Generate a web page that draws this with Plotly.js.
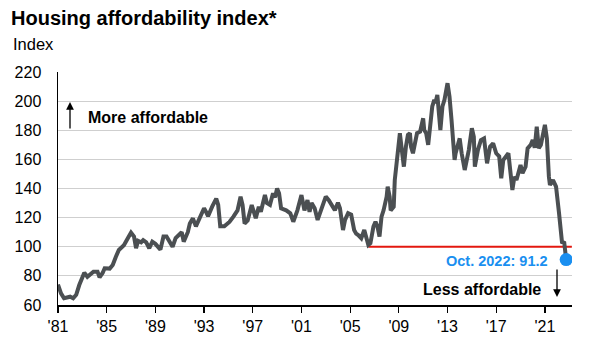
<!DOCTYPE html>
<html>
<head>
<meta charset="utf-8">
<script src="https://cdn.plot.ly/plotly-3.0.1.min.js"></script>
<style>html,body{margin:0;padding:0;background:#fff;}#chart{width:600px;height:348px;}</style>
</head>
<body>
<div id="chart"></div>
<script>
// Housing affordability index
const dates = [
'1981-01','1981-04','1981-07','1981-10','1982-01','1982-04','1982-07','1982-10','1983-01','1983-03',
'1983-06','1983-09','1983-12','1984-04','1984-06','1984-09','1984-11','1985-04','1985-07','1985-10',
'1986-01','1986-06','1986-08','1986-10','1987-01','1987-04','1987-06','1987-08','1987-11','1988-01',
'1988-04','1988-07','1988-10','1989-01','1989-06','1989-09','1989-12','1990-03','1990-06','1990-09',
'1990-12','1991-03','1991-05','1991-09','1991-11','1992-02','1992-05','1992-09','1993-01','1993-03',
'1993-05','1993-09','1994-01','1994-03','1994-05','1994-09','1995-02','1995-06','1995-10','1996-01',
'1996-03','1996-05','1996-08','1996-12','1997-04','1997-07','1997-09','1998-01','1998-03','1998-06',
'1998-09','1998-11','1999-01','1999-03','1999-05','1999-10','2000-02','2000-05','2000-09','2001-01',
'2001-03','2001-04','2001-07','2001-09','2001-11','2002-02','2002-05','2002-09','2003-01','2003-04',
'2003-07','2003-10','2004-01','2004-03','2004-06','2004-08','2004-11','2005-02','2005-05','2005-07',
'2005-09','2005-12','2006-03','2006-05','2006-07','2006-09','2006-12','2007-02','2007-04','2007-06',
'2007-08','2007-10','2008-01','2008-02','2008-04','2008-05','2008-08','2008-09','2008-11','2009-01',
'2009-02','2009-04','2009-06','2009-08','2009-10','2009-12','2010-01','2010-03','2010-05','2010-07',
'2010-10','2011-01','2011-02','2011-04','2011-06','2011-08','2011-10','2011-12','2012-01','2012-03',
'2012-04','2012-06','2012-08','2012-10','2013-01','2013-03','2013-05','2013-08','2013-09','2013-11',
'2014-01','2014-03','2014-06','2014-10','2015-01','2015-03','2015-04','2015-07','2015-10','2016-01',
'2016-04','2016-07','2016-10','2017-01','2017-04','2017-06','2017-08','2018-01','2018-05','2018-07',
'2018-09','2019-01','2019-03','2019-06','2019-08','2019-11','2020-01','2020-03','2020-05','2020-07',
'2020-09','2021-01','2021-03','2021-05','2021-06','2021-09','2021-12','2022-03','2022-06','2022-08',
'2022-10'
];
const index = [
74,68,64.6,65,65.7,64.6,67,73.7,80,82.2,
79.4,81,82.9,82.9,79,82,85.2,85,87.5,93,
97.8,101,103,106,109.7,107,99,104,103,104.5,
103,99,103.5,102,98,107,107,104,100,106,
108,110,103.5,110,116,119.5,114,120.7,126.4,124,
121,127.5,133,128.7,114,114,117,120.7,125,134.4,
128.7,116,118,128.7,119.6,127.5,124,135.5,130,128.7,
136.7,134,140,136.7,126.4,125,123,117.2,125,135.5,
130,125,132,124,130,126.4,118.4,127.5,134.4,132,
128.7,125,130.3,126.4,111.5,118.4,123,122,111.5,109,
108,105.8,111.5,107,101.2,102.4,113.8,117.2,113.8,107,
120.7,125,134.4,141.3,134.4,125,127.5,145.8,159.6,175.6,
177.9,166.4,155,168.7,176.8,178,168.7,164.2,172.2,178,
179,188.2,180.2,178,170,181.4,196.3,200.9,198.6,204.2,
196.3,180.2,196.3,200.9,212.3,203.2,187.1,159.6,164.2,171,
174.4,164.2,152.7,166.4,181.4,175.6,155,166.4,173.3,174.4,
157.3,168.7,171,164.2,162,147,159.6,164.2,139,148.1,
145.8,156.2,150.5,155,167.6,169.9,173.3,168,182.5,167.6,
169.9,183.7,174.4,148.1,142.4,145.8,141.3,123,102.4,103.5,
91.2
];
const refLineDates = ['2006-07-01','2023-03-20'];
const refLineValues = [100, 100];
const lastDate = ['2022-10'];
const lastValue = [91.2];
const tickDates = ['1981-01-01','1985-01-01','1989-01-01','1993-01-01','1997-01-01','2001-01-01','2005-01-01','2009-01-01','2013-01-01','2017-01-01','2021-01-01'];
const tickLabels = ["'81","'85","'89","'93","'97","'01","'05","'09","'13","'17","'21"];
const yTicks = [60,80,100,120,140,160,180,200,220];

const FONT = 'Liberation Sans, Arial, Helvetica, sans-serif';
const L = 58, R = 572, T = 72, B = 305;
const px = x => (x - L) / (R - L);
const py = y => (B - y) / (B - T);

const traces = [
  {x: refLineDates, y: refLineValues, mode: 'lines', line: {color: '#e3180f', width: 2}, hoverinfo: 'skip'},
  {x: dates, y: index, mode: 'lines', line: {color: '#4b4f52', width: 4, shape: 'linear'}, hoverinfo: 'skip'},
  {x: lastDate, y: lastValue, mode: 'markers', marker: {color: '#1a8ff0', size: 13}, hoverinfo: 'skip'}
];

const layout = {
  width: 600, height: 348,
  margin: {l: L, r: 600 - R, t: T, b: 348 - B},
  paper_bgcolor: '#fff', plot_bgcolor: '#fff',
  showlegend: false,
  font: {family: FONT, color: '#000', size: 16},
  title: {text: '<b>Housing affordability index*</b>', font: {family: FONT, size: 20, color: '#000'},
          xref: 'container', yref: 'container', x: 11/600, xanchor: 'left', y: 1 - 18/348, yanchor: 'middle'},
  xaxis: {
    type: 'date', range: ['1981-01-01', '2023-03-25'],
    tickmode: 'array', tickvals: tickDates, ticktext: tickLabels,
    ticks: 'outside', ticklen: 6, tickwidth: 1.2, tickcolor: '#000',
    showline: true, linecolor: '#000', linewidth: 1.5,
    showgrid: false, zeroline: false,
    tickfont: {family: FONT, size: 16, color: '#000'}
  },
  yaxis: {
    range: [60, 220], tickmode: 'array', tickvals: yTicks,
    ticks: 'outside', ticklen: 12, tickcolor: 'rgba(0,0,0,0)',
    showline: true, linecolor: '#000', linewidth: 1.5,
    showgrid: true, gridcolor: '#cfcfcf', gridwidth: 1, zeroline: false,
    tickfont: {family: FONT, size: 16, color: '#000'}
  },
  annotations: [
    {xref: 'paper', yref: 'paper', x: px(11), y: py(44), xanchor: 'left', yanchor: 'middle',
     text: 'Index', showarrow: false, font: {family: FONT, size: 16.5, color: '#000'}},
    {xref: 'paper', yref: 'paper', x: px(86), y: py(117), xanchor: 'left', yanchor: 'middle',
     text: '<b>More affordable</b>', showarrow: false, font: {family: FONT, size: 16, color: '#000'}},
    {xref: 'paper', yref: 'paper', x: px(70), y: py(102), ax: 0, ay: 28, text: '', showarrow: true,
     arrowhead: 2, arrowsize: 1.2, arrowwidth: 1.3, arrowcolor: '#000'},
    {xref: 'paper', yref: 'paper', x: px(543), y: py(289), xanchor: 'right', yanchor: 'middle',
     text: '<b>Less affordable</b>', showarrow: false, font: {family: FONT, size: 16, color: '#000'}},
    {xref: 'paper', yref: 'paper', x: px(557), y: py(297), ax: 0, ay: -29, text: '', showarrow: true,
     arrowhead: 2, arrowsize: 1.2, arrowwidth: 1.3, arrowcolor: '#000'},
    {xref: 'paper', yref: 'paper', x: px(550), y: py(261), xanchor: 'right', yanchor: 'middle',
     text: '<b>Oct. 2022: 91.2</b>', showarrow: false, font: {family: FONT, size: 14.5, color: '#1a8ff0'}}
  ]
};

Plotly.newPlot('chart', traces, layout, {displayModeBar: false, staticPlot: true});
</script>
</body>
</html>
